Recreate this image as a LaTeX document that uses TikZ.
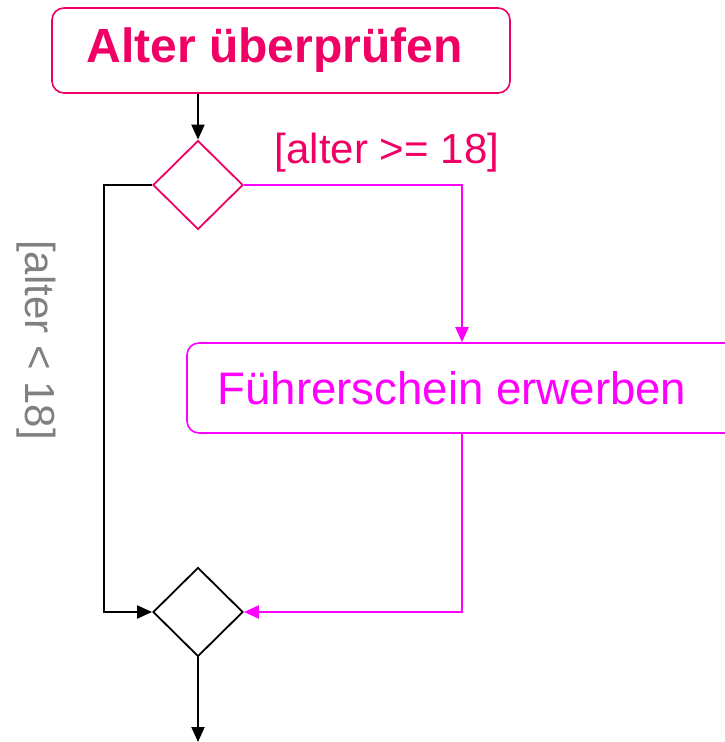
\documentclass[tikz,border=0pt]{standalone}
\usepackage{fontspec}
\setmainfont{Liberation Sans}
\usetikzlibrary{shapes.geometric,arrows.meta}
\definecolor{crim}{RGB}{240,0,100}
\definecolor{mag}{RGB}{255,0,255}
\definecolor{lgray}{RGB}{128,128,128}
\begin{document}
\begin{tikzpicture}[x=1pt,y=-1pt,
  box/.style={draw,line width=1.6pt,rounded corners=12pt,inner sep=0pt},
  dia/.style={draw,diamond,line width=1.8pt,inner sep=0pt,minimum width=90pt,minimum height=89pt},
  conn/.style={line width=2pt,-{Triangle[length=15pt,width=13pt]}},
  lbl/.style={inner sep=0pt,font=\fontsize{42}{42}\selectfont}]
\useasboundingbox (0,0) rectangle (725,742);
\begin{scope}
\clip (0,0) rectangle (725,742);
\node[box,crim,minimum width=458pt,minimum height=85pt,font=\fontsize{48}{48}\selectfont\bfseries] (b1) at (281,50.5) {Alter überprüfen\hspace*{13pt}};
\node[dia,crim] (d1) at (198,185) {};
\node[box,mag,minimum width=550pt,minimum height=90pt,font=\fontsize{45.6}{45.6}\selectfont] (b2) at (462,388) {\hspace*{-6pt}Führerschein erwerben\hspace*{14pt}};
\node[dia,black] (d2) at (198,612) {};
\coordinate (end) at (198,742);
\coordinate (lft) at (104,400);
\node[lbl,crim] (l1) at (387,153) {[alter >= 18]};
\node[lbl,lgray,rotate=-90] (l2) at (36,340) {[alter < 18]};
\draw[conn] (b1.south -| d1.north) -- (d1.north);
\draw[conn,mag] (d1.east) -| (b2.north);
\draw[conn,mag] (b2.south) |- (d2.east);
\draw[conn] (d1.west) -| (lft) |- (d2.west);
\draw[conn] (d2.south) -- (end);
\end{scope}
\end{tikzpicture}
\end{document}
